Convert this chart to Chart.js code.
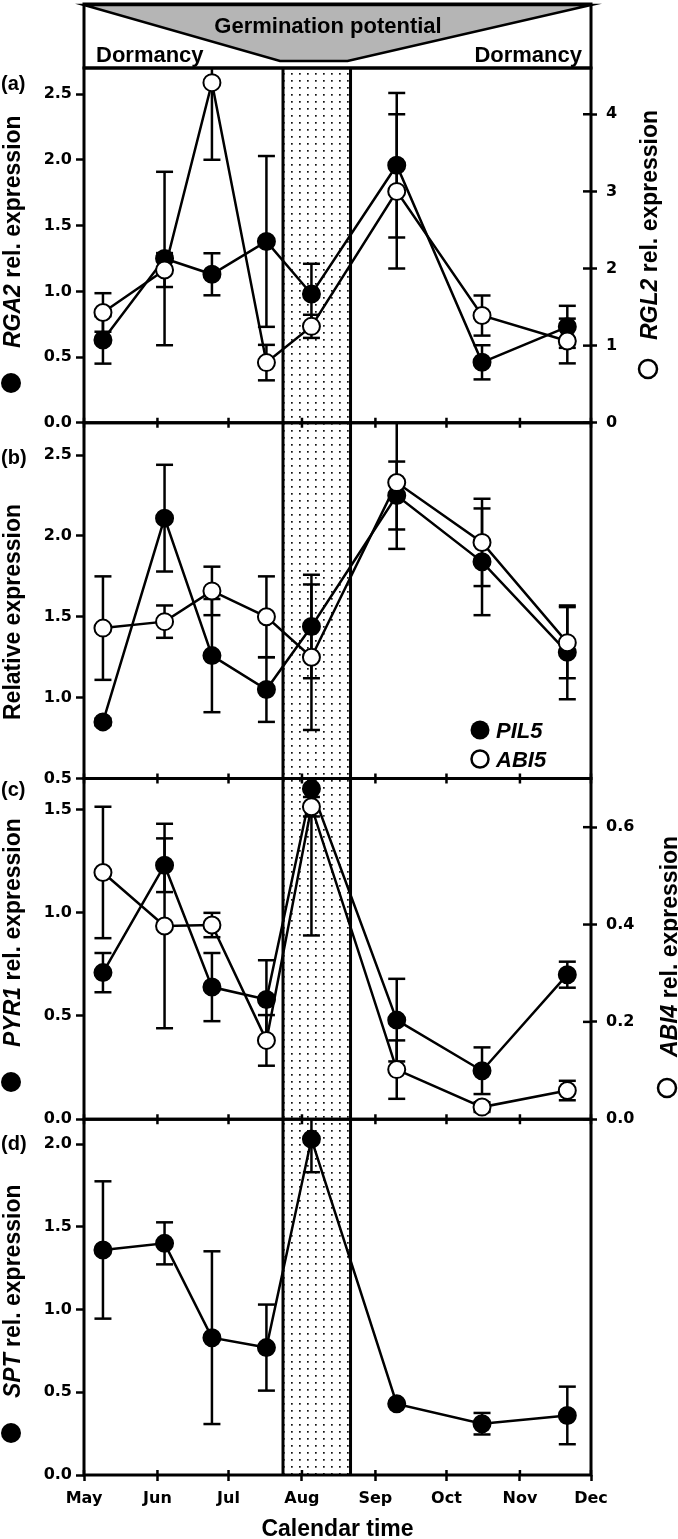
<!DOCTYPE html>
<html lang="en">
<head>
<meta charset="UTF-8"/>
<title>Seasonal expression</title>
<style>
  html, body { margin:0; padding:0; background:#fff; overflow:hidden; }
  canvas { display:block; }
</style>
</head>
<body>
<canvas id="chart" width="678" height="1539"></canvas>

<script src="https://cdn.jsdelivr.net/npm/chart.js"></script>
<script>
/* ========== data (x = days since 1 May) ========== */
const monthDays   = [0, 31, 61, 92, 123, 153, 184, 214];
const monthLabels = ["May","Jun","Jul","Aug","Sep","Oct","Nov","Dec"];
const sampleDays  = [8, 34, 54, 77, 96, 132, 168, 204];
const windowDays  = [84, 112.5];   // germination window (dotted band)

// (a)
const rga2    = [0.63, 1.25, 1.13, 1.38, 0.98, 1.96, 0.46, 0.73];
const rga2Err = [0.18, 0.66, 0.16, 0.65, 0.23, 0.55, 0.13, 0.16];
const rgl2    = [1.43, 1.98, 4.41, 0.78, 1.25, 3.00, 1.39, 1.06];
const rgl2Err = [0.25, 0.22, 1.00, 0.23, 0.15, 1.00, 0.26, 0.29];
// (b)
const pil5    = [0.85, 2.11, 1.26, 1.05, 1.44, 2.25, 1.84, 1.28];
const pil5Err = [0.02, 0.33, 0.35, 0.20, 0.32, 0.21, 0.33, 0.29];
const abi5    = [1.43, 1.47, 1.66, 1.50, 1.25, 2.33, 1.96, 1.34];
const abi5Err = [0.32, 0.10, 0.15, 0.25, 0.45, 0.41, 0.27, 0.22];
// (c)
const pyr1    = [0.71, 1.23, 0.64, 0.58, 1.60, 0.48, 0.235, 0.70];
const pyr1Err = [0.095, 0.13, 0.165, 0.19, 0.71, 0.20, 0.113, 0.063];
const abi4    = [0.507, 0.397, 0.399, 0.162, 0.642, 0.102, 0.025, 0.059];
const abi4Err = [0.135, 0.21, 0.025, 0.052, 0.02, 0.06, 0.01, 0.02];
// (d)
const spt     = [1.36, 1.40, 0.83, 0.77, 2.03, 0.43, 0.31, 0.36];
const sptErr  = [0.415, 0.127, 0.522, 0.26, 0.20, 0.01, 0.065, 0.174];

// tick values
const ticksA  = [0, 0.5, 1, 1.5, 2, 2.5];
const ticksA2 = [0, 1, 2, 3, 4];
const ticksB  = [0.5, 1, 1.5, 2, 2.5];
const ticksC  = [0, 0.5, 1, 1.5];
const ticksC2 = [0, 0.2, 0.4, 0.6];
const ticksD  = [0, 0.5, 1, 1.5, 2];

/* ========== helpers ========== */
const SANS = '"Liberation Sans", Arial, sans-serif';
const tickFont = { family: '"DejaVu Sans", sans-serif', size: 16, weight: 'bold' };

function series(label, ys, errs, axis, filled){
  return {
    label: label,
    yAxisID: axis,
    data: ys.map((y, i) => ({ x: sampleDays[i], y: y })),
    err: errs,
    borderColor: '#000',
    borderWidth: 2.5,
    pointRadius: 8.5,
    pointHoverRadius: 8.5,
    pointBorderWidth: 2,
    pointBorderColor: '#000',
    pointBackgroundColor: filled ? '#000' : '#fff',
    tension: 0,
    order: filled ? 1 : 0
  };
}

function yAxis(pos, stack, weight, hgt, min, max, ticks, dec, width){
  const right = pos === 'right';
  const ax = {
    type: 'linear', position: pos, stack: stack, stackWeight: hgt, weight: weight,
    min: min, max: max,
    afterFit: s => { s.width = width; },
    border: { display: false },
    grid: { display: !!ticks, drawOnChartArea: false, tickColor: '#000',
            tickLength: right ? 6 : 8, tickWidth: 2.5 },
    ticks: { display: !!ticks, color: '#000', font: tickFont, padding: right ? 9 : 4,
             callback: v => v.toFixed(dec) }
  };
  if (ticks) ax.afterBuildTicks = s => { s.ticks = ticks.map(v => ({ value: v })); };
  return ax;
}

function dotPattern(ctx){
  const pc = document.createElement('canvas');
  pc.width = 8; pc.height = 7;
  const p = pc.getContext('2d');
  p.fillStyle = '#111';
  p.fillRect(3, 3, 1.7, 1.7);
  return ctx.createPattern(pc, 'repeat');
}

// rotated (bottom-to-top) title built from [text, italic] parts
function vTitle(ctx, x, y, parts){
  ctx.save();
  ctx.translate(x, y);
  ctx.rotate(-Math.PI / 2);
  ctx.textAlign = 'left';
  ctx.textBaseline = 'alphabetic';
  let off = 0;
  parts.forEach(([t, it]) => {
    ctx.font = (it ? 'italic ' : '') + 'bold 23px ' + SANS;
    ctx.fillText(t, off, 0);
    off += ctx.measureText(t).width;
  });
  ctx.restore();
}

function dot(ctx, x, y, r, filled){
  ctx.beginPath();
  ctx.arc(x, y, r, 0, Math.PI * 2);
  ctx.fillStyle = filled ? '#000' : '#fff';
  ctx.fill();
  if (!filled){ ctx.lineWidth = 2.5; ctx.strokeStyle = '#000'; ctx.stroke(); }
}

function line(ctx, x0, y0, x1, y1){
  ctx.beginPath(); ctx.moveTo(x0, y0); ctx.lineTo(x1, y1); ctx.stroke();
}

/* ========== drawing plugin ========== */
const panelPlugin = {
  id: 'panels',
  beforeDatasetsDraw(chart){
    const { ctx, chartArea: ca, scales } = chart;
    const x = scales.x;
    const b0 = x.getPixelForValue(windowDays[0]);
    const b1 = x.getPixelForValue(windowDays[1]);
    ctx.save();
    ctx.fillStyle = dotPattern(ctx);
    ctx.fillRect(b0, ca.top, b1 - b0, ca.bottom - ca.top);
    ctx.strokeStyle = '#000';
    ctx.lineWidth = 3;
    line(ctx, b0, ca.top, b0, ca.bottom);
    line(ctx, b1, ca.top, b1, ca.bottom);

    // error bars
    ctx.lineWidth = 2.5;
    chart.data.datasets.forEach(ds => {
      const ys = scales[ds.yAxisID];
      ds.data.forEach((p, i) => {
        const e = ds.err[i];
        const px = x.getPixelForValue(p.x);
        const hi = p.y + e, lo = p.y - e;
        const yHi = ys.getPixelForValue(Math.min(hi, ys.max));
        const yLo = ys.getPixelForValue(Math.max(lo, ys.min));
        line(ctx, px, yHi, px, yLo);
        if (hi <= ys.max) line(ctx, px - 8.5, yHi, px + 8.5, yHi);
        if (lo >= ys.min) line(ctx, px - 8.5, yLo, px + 8.5, yLo);
      });
    });
    ctx.restore();
  },
  afterDatasetsDraw(chart){
    const { ctx, chartArea: ca, scales } = chart;
    const x = scales.x;
    ctx.save();
    ctx.strokeStyle = '#000';
    ctx.fillStyle = '#000';

    // panel frames
    ctx.lineWidth = 3;
    ['ya', 'yb', 'yc', 'yd'].forEach(id => {
      const s = scales[id];
      ctx.strokeRect(ca.left, s.top, ca.right - ca.left, s.bottom - s.top);
    });

    // month ticks on every panel boundary
    ctx.lineWidth = 2.5;
    ['ya', 'yb', 'yc'].forEach(id => {
      const yb = scales[id].bottom;
      monthDays.forEach(d => { const px = x.getPixelForValue(d); line(ctx, px, yb - 5, px, yb + 5); });
    });
    monthDays.forEach(d => { const px = x.getPixelForValue(d); line(ctx, px, ca.bottom - 5, px, ca.bottom); });

    // inner half of right-axis ticks
    ['ya2', 'yc2'].forEach(id => {
      const s = scales[id];
      s.ticks.forEach(t => { const py = s.getPixelForValue(t.value); line(ctx, ca.right - 8, py, ca.right, py); });
    });

    // panel letters
    ctx.font = 'bold 20px ' + SANS;
    ctx.textAlign = 'left';
    ctx.textBaseline = 'middle';
    ctx.fillStyle = '#000';
    ctx.fillText('(a)', 1, 84);
    ctx.fillText('(b)', 1, 458);
    ctx.fillText('(c)', 1, 790);
    ctx.fillText('(d)', 1, 1144);

    // axis titles
    ctx.fillStyle = '#000';
    vTitle(ctx, 20, 348, [['RGA2', true], [' rel. expression', false]]);
    dot(ctx, 11, 383, 10, true);
    vTitle(ctx, 20, 720, [['Relative expression', false]]);
    vTitle(ctx, 20, 1047, [['PYR1', true], [' rel. expression', false]]);
    dot(ctx, 11, 1082, 10, true);
    ctx.fillStyle = '#000';
    vTitle(ctx, 20, 1398, [['SPT', true], [' rel. expression', false]]);
    dot(ctx, 11, 1433, 10, true);
    ctx.fillStyle = '#000';
    vTitle(ctx, 657, 340, [['RGL2', true], [' rel. expression', false]]);
    dot(ctx, 648, 369, 9, false);
    ctx.fillStyle = '#000';
    vTitle(ctx, 677, 1057, [['ABI4', true], [' rel. expression', false]]);
    dot(ctx, 667, 1088, 9, false);

    // legend of panel (b)
    dot(ctx, 480, 730, 9.5, true);
    dot(ctx, 480, 759, 8.5, false);
    ctx.fillStyle = '#000';
    ctx.font = 'italic bold 22px ' + SANS;
    ctx.textBaseline = 'alphabetic';
    ctx.fillText('PIL5', 496, 738);
    ctx.fillText('ABI5', 496, 767);
    ctx.restore();
  },
  afterDraw(chart){
    // header: germination potential wedge
    const { ctx, chartArea: ca, scales } = chart;
    const x = scales.x;
    const b0 = x.getPixelForValue(windowDays[0]) - 3;
    const b1 = x.getPixelForValue(windowDays[1]) - 3;
    const top = 4, bot = ca.top;
    ctx.save();
    ctx.beginPath();
    ctx.moveTo(ca.left, top + 1);
    ctx.lineTo(ca.right, top + 1);
    ctx.lineTo(b1, 61);
    ctx.lineTo(b0, 61);
    ctx.closePath();
    ctx.fillStyle = '#b5b5b5';
    ctx.fill();
    ctx.strokeStyle = '#000';
    ctx.lineWidth = 2.5;
    ctx.stroke();
    ctx.lineWidth = 3;
    ctx.strokeRect(ca.left, top, ca.right - ca.left, bot - top);

    ctx.fillStyle = '#000';
    ctx.font = 'bold 22px ' + SANS;
    ctx.textBaseline = 'alphabetic';
    ctx.textAlign = 'center';
    ctx.fillText('Germination potential', 328, 33);
    ctx.textAlign = 'left';
    ctx.fillText('Dormancy', 96, 62);
    ctx.textAlign = 'right';
    ctx.fillText('Dormancy', 582, 62);
    ctx.restore();
  }
};

/* ========== chart ========== */
new Chart(document.getElementById('chart').getContext('2d'), {
  type: 'line',
  data: {
    datasets: [
      series('RGL2', rgl2, rgl2Err, 'ya2', false),
      series('RGA2', rga2, rga2Err, 'ya', true),
      series('ABI5', abi5, abi5Err, 'yb', false),
      series('PIL5', pil5, pil5Err, 'yb', true),
      series('ABI4', abi4, abi4Err, 'yc2', false),
      series('PYR1', pyr1, pyr1Err, 'yc', true),
      series('SPT',  spt,  sptErr,  'yd', true)
    ]
  },
  options: {
    responsive: false,
    animation: false,
    events: [],
    layout: { padding: { top: 68, left: 0, right: 0, bottom: 0 } },
    plugins: { legend: { display: false }, tooltip: { enabled: false } },
    scales: {
      x: {
        type: 'linear', position: 'bottom', min: 0, max: 214,
        afterBuildTicks: s => { s.ticks = monthDays.map(v => ({ value: v })); },
        afterFit: s => { s.height = 64; },
        border: { display: false },
        grid: { drawOnChartArea: false, tickColor: '#000', tickLength: 6, tickWidth: 2.5 },
        ticks: { color: '#000', font: tickFont, padding: 8, autoSkip: false, maxRotation: 0,
                 callback: v => monthLabels[monthDays.indexOf(v)] },
        title: { display: true, text: 'Calendar time', color: '#000', padding: 0,
                 font: { family: SANS, size: 23, weight: 'bold', lineHeight: 0.85 } }
      },
      ya:  yAxis('left', 'L', 4, 355, 0, 2.7,  ticksA, 1, 84),
      yb:  yAxis('left', 'L', 3, 356, 0.5, 2.7, ticksB, 1, 84),
      yc:  yAxis('left', 'L', 2, 341, 0, 1.65, ticksC, 1, 84),
      yd:  yAxis('left', 'L', 1, 356, 0, 2.15, ticksD, 1, 84),
      ya2: yAxis('right', 'R', 1, 355, 0, 4.6,  ticksA2, 0, 87),
      yb2: yAxis('right', 'R', 2, 356, 0, 1,    null, 0, 87),
      yc2: yAxis('right', 'R', 3, 341, 0, 0.70, ticksC2, 1, 87),
      yd2: yAxis('right', 'R', 4, 356, 0, 1,    null, 0, 87)
    }
  },
  plugins: [panelPlugin]
});
</script>
</body>
</html>
